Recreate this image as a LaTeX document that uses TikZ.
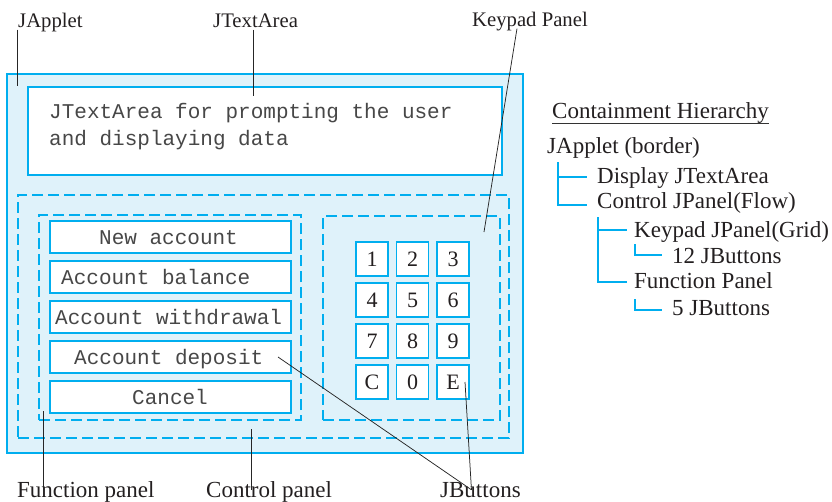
\documentclass[tikz,border=0pt]{standalone}
\usepackage{fontspec}
\setmainfont{Liberation Serif}
\newfontfamily\monofont{Liberation Mono}
\definecolor{jcyan}{RGB}{0,174,239}
\definecolor{jfill}{RGB}{223,242,250}
\definecolor{jtext}{RGB}{35,31,32}
\begin{document}
\begin{tikzpicture}[x=1pt,y=-1pt,
  panel/.style={draw=jcyan, line width=1.5pt, inner sep=0pt},
  dpanel/.style={draw=jcyan, line width=1.3pt, dash pattern=on 11pt off 5pt, inner sep=0pt},
  btn/.style={draw=jcyan, line width=1.5pt, fill=white, inner sep=0pt},
  fbtn/.style={btn, minimum width=241, minimum height=32},
  kbtn/.style={btn, minimum width=32, minimum height=34, text=jtext, font=\fontsize{22pt}{24pt}\selectfont},
  mono/.style={anchor=base west, inner sep=0pt, text=black!72, font=\monofont\fontsize{21pt}{27pt}\selectfont},
  toplbl/.style={anchor=base west, inner sep=0pt, text=jtext, text height=0.7em, text depth=0.25em, font=\fontsize{20.7pt}{24pt}\selectfont},
  botlbl/.style={anchor=base west, inner sep=0pt, text=jtext, text height=0.7em, text depth=0.25em, font=\fontsize{23pt}{26pt}\selectfont},
  hier/.style={anchor=base west, inner sep=0pt, text=jtext, font=\fontsize{23pt}{26pt}\selectfont},
  leader/.style={draw=black!85, line width=0.75pt},
  tree/.style={draw=jcyan, line width=2.8pt}
]
\useasboundingbox (0,0) rectangle (832,501);

% JApplet outer box
\node[panel, fill=jfill, minimum width=516, minimum height=379] (applet) at (265,263.5) {};
% text area
\node[panel, fill=white, minimum width=474, minimum height=88] (tarea) at (265,131) {};
\node[mono] (ta1) at (49,118) {JTextArea for prompting the user};
\node[mono] (ta2) at (49,145) {and displaying data};

% control / function / keypad panels
\node[dpanel, minimum width=491, minimum height=243] (ctrl) at (263.5,316.5) {};
\node[dpanel, minimum width=262, minimum height=205] (func) at (170,317.5) {};
\node[dpanel, minimum width=177, minimum height=204] (keypad) at (411.5,318) {};

% function buttons
\node[fbtn] (b1) at (170.5,237) {};
\node[fbtn] (b2) at (170.5,277) {};
\node[fbtn] (b3) at (170.5,317) {};
\node[fbtn] (b4) at (170.5,357) {};
\node[fbtn] (b5) at (170.5,397) {};
\node[mono] (t1) at (99,244.5) {New account};
\node[mono] (t2) at (61,284.5) {Account balance};
\node[mono] (t3) at (55,324.5) {Account withdrawal};
\node[mono] (t4) at (74,364.5) {Account deposit};
\node[mono] (t5) at (132,404.5) {Cancel};

% keypad buttons
\node[kbtn] (k1) at (372,259) {1};
\node[kbtn] (k2) at (412.5,259) {2};
\node[kbtn] (k3) at (453,259) {3};
\node[kbtn] (k4) at (372,300) {4};
\node[kbtn] (k5) at (412.5,300) {5};
\node[kbtn] (k6) at (453,300) {6};
\node[kbtn] (k7) at (372,341) {7};
\node[kbtn] (k8) at (412.5,341) {8};
\node[kbtn] (k9) at (453,341) {9};
\node[kbtn] (kC) at (372,382) {C};
\node[kbtn] (k0) at (412.5,382) {0};
\node[kbtn] (kE) at (453,382) {E};

% top labels and leaders
\node[toplbl] (lapplet) at (18,27) {JApplet};
\node[toplbl] (ltarea) at (213,27) {JTextArea};
\node[toplbl] (lkeypad) at (472,26) {Keypad Panel};
\coordinate (eApplet) at (17,86);
\coordinate (eTarea) at (253,96);
\coordinate (eKeypad) at (484,232);
\draw[leader] (lapplet.south -| eApplet) -- (eApplet);
\draw[leader] (ltarea.south -| eTarea) -- (eTarea);
\draw[leader] ([xshift=-13pt]lkeypad.south) -- (eKeypad);

% bottom labels and leaders
\node[botlbl] (lfunc) at (17,497) {Function panel};
\node[botlbl] (lctrl) at (206,497) {Control panel};
\node[botlbl] (lbtns) at (440,497) {JButtons};
\coordinate (sFunc) at (43,411);
\coordinate (sCtrl) at (251,429);
\coordinate (jb) at ([xshift=-9pt]lbtns.north);
\coordinate (eE) at ([xshift=12pt]kE.center);
\coordinate (eDep) at ([xshift=107.5pt]b4.center);
\draw[leader] (sFunc) -- (sFunc |- lfunc.north);
\draw[leader] (sCtrl) -- (sCtrl |- lctrl.north);
\draw[leader] (jb) -- (eE);
\draw[leader] (jb) -- (eDep);

% containment hierarchy
\node[hier] (htitle) at (552,118) {Containment Hierarchy};
\draw[draw=black!80, line width=1pt] (htitle.base west) ++(0,5) coordinate (ul1) -- (ul1 -| htitle.base east);
\node[hier] (h0) at (547,153) {JApplet (border)};
\node[hier] (h1) at (597,183) {Display JTextArea};
\node[hier] (h2) at (597,208) {Control JPanel(Flow)};
\node[hier] (h3) at (634,237) {Keypad JPanel(Grid)};
\node[hier] (h4) at (672,263) {12 JButtons};
\node[hier] (h5) at (634,288) {Function Panel};
\node[hier] (h6) at (672,315) {5 JButtons};
\draw[tree] (558,162) |- (587,205);
\draw[tree] (558,177) -- (587,177);
\draw[tree] (598,217) |- (627,282);
\draw[tree] (598,230) -- (627,230);
\draw[tree] (635,244) |- (662,255);
\draw[tree] (635,299) |- (662,310);
\end{tikzpicture}
\end{document}
